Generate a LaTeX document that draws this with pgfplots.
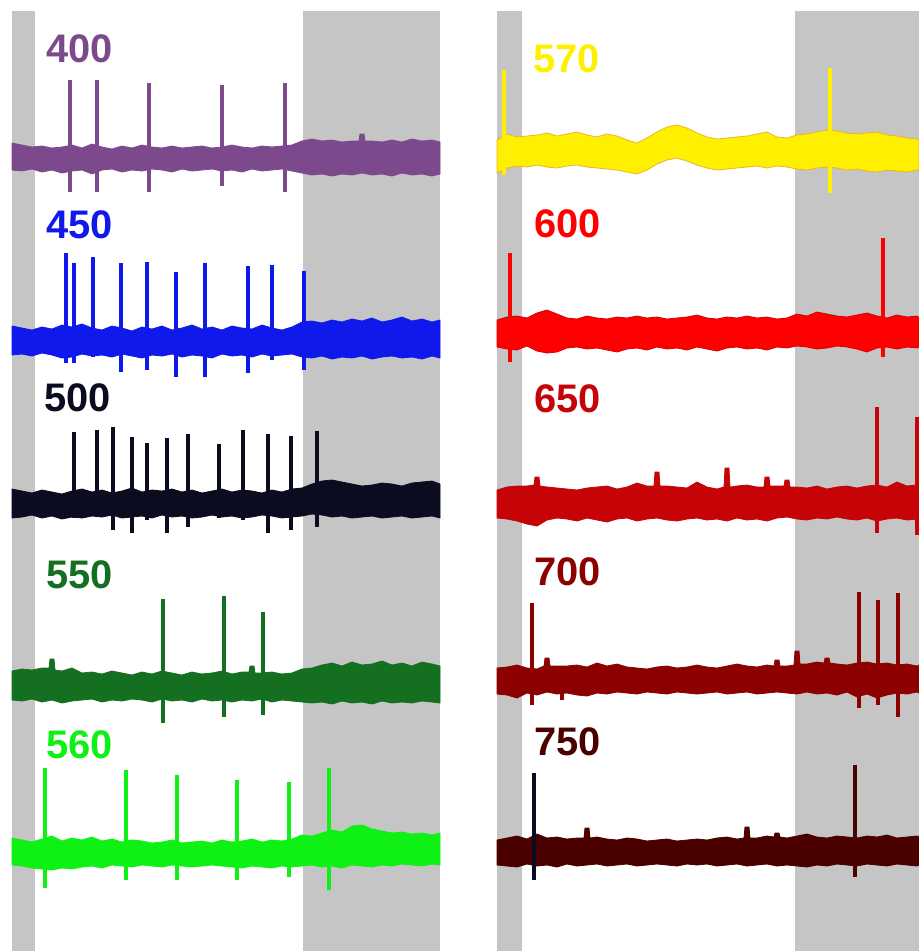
\documentclass[border=0pt]{standalone}
\usepackage{pgfplots}
\pgfplotsset{compat=1.18}
\usepackage{fontspec}
\setmainfont{Liberation Sans}

\definecolor{bgray}{RGB}{197,197,197}
\definecolor{cPur}{RGB}{124,74,140}
\definecolor{cBlu}{RGB}{15,25,235}
\definecolor{cBlk}{RGB}{12,12,32}
\definecolor{cDgr}{RGB}{20,112,32}
\definecolor{cLim}{RGB}{15,240,20}
\definecolor{cYel}{RGB}{255,240,0}
\definecolor{cYelE}{RGB}{232,180,40}
\definecolor{cRed}{RGB}{255,0,0}
\definecolor{cRedE}{RGB}{215,0,0}
\definecolor{cDrd}{RGB}{198,4,8}
\definecolor{cMar}{RGB}{140,0,0}
\definecolor{cBrn}{RGB}{75,0,0}

\newcommand{\labfont}{\fontsize{40}{40}\selectfont\bfseries}
\newcommand{\spk}[4]{\addplot[#1, line width=3.6bp] coordinates {(#2,#3) (#2,#4)};}

\pgfplotsset{panel/.style={hide axis, x=1bp, y=1bp, y dir=reverse,
  ymin=11, ymax=951, clip=false, anchor=north west},
  band/.style={line width=0.8bp}}

\begin{document}
\begin{tikzpicture}
\useasboundingbox (0bp,0bp) rectangle (919bp,-951bp);

% ---------------- left panel ----------------
\begin{axis}[panel, xmin=12, xmax=440, at={(12bp,-11bp)}]
\addplot[fill=bgray, draw=none] coordinates {(12,11) (35,11) (35,951) (12,951)} -- cycle;
\addplot[fill=bgray, draw=none] coordinates {(303,11) (440,11) (440,951) (303,951)} -- cycle;

% 400
\addplot[band, fill=cPur, draw=cPur] coordinates {
(12,143)(22,145)(32,147)(42,146)(52,148)(62,147)(72,145)(82,148)(92,144)(102,147)(112,149)(122,146)(132,148)(142,145)(152,147)(162,148)(172,146)(182,148)(192,147)(202,146)(212,148)(222,147)(232,145)(242,147)(252,148)(262,146)(272,147)(282,146)(292,145)(302,141)(312,139)(322,141)(332,140)(342,142)(352,141)(359,141)(360,134)(364,134)(365,141)(372,141)(382,142)(392,140)(402,142)(412,139)(422,141)(432,140)(440,142)
(440,174)(432,176)(422,174)(412,175)(402,173)(392,176)(382,174)(372,175)(362,173)(352,175)(342,174)(332,176)(322,174)(312,175)(302,173)(292,171)(282,169)(272,170)(262,171)(252,169)(242,172)(232,170)(222,171)(212,169)(202,170)(192,171)(182,169)(172,172)(162,170)(152,169)(142,171)(132,170)(122,172)(112,169)(102,170)(92,174)(82,170)(72,171)(62,173)(52,170)(42,172)(32,169)(22,171)(12,170)
} -- cycle;
\spk{cPur}{70}{80}{192}
\spk{cPur}{97}{80}{192}
\spk{cPur}{149}{83}{192}
\spk{cPur}{222}{85}{186}
\spk{cPur}{285}{83}{192}

% 450
\addplot[band, fill=cBlu, draw=cBlu] coordinates {
(12,326)(22,328)(32,330)(42,327)(52,329)(62,325)(72,327)(82,324)(92,328)(102,330)(112,326)(122,328)(132,331)(142,327)(152,329)(162,326)(172,330)(182,328)(192,325)(202,329)(212,327)(222,330)(232,326)(242,328)(252,329)(262,325)(272,328)(282,330)(292,327)(302,322)(312,321)(322,323)(332,320)(342,322)(352,319)(362,321)(372,318)(382,322)(392,320)(402,317)(412,321)(422,319)(432,322)(440,320)
(440,358)(432,356)(422,359)(412,357)(402,358)(392,356)(382,357)(372,359)(362,356)(352,358)(342,357)(332,359)(322,356)(312,358)(302,357)(292,354)(282,355)(272,356)(262,354)(252,357)(242,355)(232,356)(222,354)(212,358)(202,356)(192,355)(182,357)(172,354)(162,356)(152,355)(142,358)(132,356)(122,354)(112,357)(102,355)(92,356)(82,354)(72,357)(62,358)(52,355)(42,353)(32,356)(22,354)(12,355)
} -- cycle;
\spk{cBlu}{66}{253}{363}
\spk{cBlu}{74}{263}{363}
\spk{cBlu}{93}{257}{357}
\spk{cBlu}{121}{263}{372}
\spk{cBlu}{147}{262}{370}
\spk{cBlu}{176}{272}{377}
\spk{cBlu}{205}{263}{377}
\spk{cBlu}{248}{266}{373}
\spk{cBlu}{272}{265}{360}
\spk{cBlu}{304}{271}{370}

% 500
\addplot[band, fill=cBlk, draw=cBlk] coordinates {
(12,489)(22,491)(32,493)(42,490)(52,492)(62,494)(72,491)(82,489)(92,492)(102,490)(112,493)(122,491)(132,488)(142,492)(152,490)(162,491)(172,489)(182,492)(192,490)(202,493)(212,491)(222,489)(232,492)(242,490)(252,491)(262,493)(272,490)(282,492)(292,489)(302,488)(312,484)(322,481)(332,480)(342,482)(352,484)(362,486)(372,485)(382,483)(392,484)(402,486)(412,483)(422,482)(432,481)(440,484)
(440,518)(432,516)(422,517)(412,518)(402,516)(392,517)(382,518)(372,516)(362,517)(352,518)(342,516)(332,517)(322,515)(312,514)(302,516)(292,517)(282,518)(272,516)(262,515)(252,517)(242,518)(232,516)(222,517)(212,515)(202,517)(192,518)(182,516)(172,517)(162,515)(152,518)(142,516)(132,517)(122,518)(112,515)(102,517)(92,516)(82,518)(72,517)(62,519)(52,516)(42,518)(32,515)(22,517)(12,518)
} -- cycle;
\spk{cBlk}{74}{432}{518}
\spk{cBlk}{97}{430}{515}
\spk{cBlk}{113}{427}{530}
\spk{cBlk}{132}{437}{533}
\spk{cBlk}{147}{443}{520}
\spk{cBlk}{167}{438}{533}
\spk{cBlk}{188}{434}{527}
\spk{cBlk}{219}{444}{518}
\spk{cBlk}{243}{430}{520}
\spk{cBlk}{268}{434}{533}
\spk{cBlk}{291}{436}{530}
\spk{cBlk}{317}{431}{527}

% 550
\addplot[band, fill=cDgr, draw=cDgr] coordinates {
(12,671)(22,669)(32,670)(42,668)(49,668)(50,659)(54,659)(55,670)(62,671)(72,668)(82,673)(92,672)(102,674)(112,671)(122,673)(132,675)(142,672)(152,674)(162,671)(172,673)(182,675)(192,672)(202,674)(212,673)(222,671)(232,674)(242,672)(249,672)(250,666)(254,666)(255,673)(262,673)(272,672)(282,674)(292,673)(302,669)(312,668)(322,665)(332,663)(342,666)(352,662)(362,665)(372,664)(382,661)(392,665)(402,663)(412,666)(422,662)(432,664)(440,666)
(440,703)(432,702)(422,701)(412,703)(402,702)(392,703)(382,701)(372,704)(362,702)(352,703)(342,701)(332,704)(322,702)(312,703)(302,702)(292,701)(282,700)(272,702)(262,699)(252,701)(242,700)(232,702)(222,700)(212,701)(202,699)(192,702)(182,700)(172,701)(162,699)(152,702)(142,700)(132,699)(122,701)(112,700)(102,702)(92,699)(82,700)(72,701)(62,703)(52,700)(42,702)(32,699)(22,701)(12,700)
} -- cycle;
\spk{cDgr}{163}{599}{723}
\spk{cDgr}{224}{596}{717}
\spk{cDgr}{263}{612}{715}

% 560
\addplot[band, fill=cLim, draw=cLim] coordinates {
(12,838)(22,840)(32,842)(42,839)(52,836)(62,841)(72,838)(82,840)(92,837)(102,841)(112,839)(122,842)(132,840)(142,841)(152,843)(162,842)(172,840)(182,843)(192,842)(202,841)(212,843)(222,840)(232,842)(242,841)(252,839)(262,842)(272,840)(282,841)(292,839)(302,835)(312,836)(322,833)(332,830)(342,832)(352,826)(362,825)(372,829)(382,831)(392,833)(402,832)(412,834)(422,833)(432,835)(440,833)
(440,865)(432,864)(422,866)(412,865)(402,864)(392,866)(382,865)(372,867)(362,866)(352,865)(342,868)(332,866)(322,867)(312,865)(302,866)(292,867)(282,866)(272,868)(262,867)(252,866)(242,868)(232,867)(222,866)(212,865)(202,866)(192,867)(182,866)(172,865)(162,867)(152,866)(142,865)(132,867)(122,866)(112,865)(102,868)(92,866)(82,867)(72,869)(62,868)(52,870)(42,869)(32,868)(22,866)(12,865)
} -- cycle;
\spk{cLim}{45}{768}{888}
\spk{cLim}{126}{770}{880}
\spk{cLim}{177}{775}{880}
\spk{cLim}{237}{780}{880}
\spk{cLim}{289}{782}{877}
\spk{cLim}{329}{768}{890}

\node[anchor=base west, inner sep=0pt, text=cPur, font=\labfont] at (axis cs:46,62) {400};
\node[anchor=base west, inner sep=0pt, text=cBlu, font=\labfont] at (axis cs:46,238) {450};
\node[anchor=base west, inner sep=0pt, text=cBlk, font=\labfont] at (axis cs:44,411) {500};
\node[anchor=base west, inner sep=0pt, text=cDgr, font=\labfont] at (axis cs:46,588) {550};
\node[anchor=base west, inner sep=0pt, text=cLim, font=\labfont] at (axis cs:46,758) {560};
\end{axis}

% ---------------- right panel ----------------
\begin{axis}[panel, xmin=497, xmax=919, at={(497bp,-11bp)}]
\addplot[fill=bgray, draw=none] coordinates {(497,11) (522,11) (522,951) (497,951)} -- cycle;
\addplot[fill=bgray, draw=none] coordinates {(795,11) (919,11) (919,951) (795,951)} -- cycle;

% 570
\addplot[band, fill=cYel, draw=cYelE] coordinates {
(497,140)(507,134)(517,137)(527,136)(537,135)(547,133)(557,136)(567,134)(577,132)(587,135)(597,137)(607,134)(617,136)(627,140)(637,143)(647,138)(657,132)(667,127)(677,125)(687,128)(697,133)(707,137)(717,139)(727,138)(737,137)(747,136)(757,134)(767,132)(777,137)(787,138)(797,135)(807,134)(817,132)(827,130)(837,131)(847,133)(857,134)(867,133)(877,132)(887,135)(897,136)(907,138)(917,139)(919,140)
(919,171)(917,170)(907,172)(897,171)(887,170)(877,172)(867,171)(857,169)(847,170)(837,168)(827,167)(817,168)(807,170)(797,169)(787,167)(777,166)(767,168)(757,166)(747,167)(737,168)(727,169)(717,170)(707,168)(697,165)(687,161)(677,158)(667,160)(657,164)(647,170)(637,174)(627,172)(617,170)(607,169)(597,168)(587,167)(577,165)(567,166)(557,168)(547,167)(537,165)(527,167)(517,166)(507,168)(497,173)
} -- cycle;
\spk{cYel}{504}{70}{175}
\spk{cYel}{830}{68}{193}

% 600
\addplot[band, fill=cRed, draw=cRedE] coordinates {
(497,320)(507,317)(517,316)(527,318)(537,313)(547,310)(557,314)(567,318)(577,319)(587,316)(597,318)(607,319)(617,317)(627,318)(637,316)(647,318)(657,317)(667,319)(677,318)(687,317)(697,315)(707,318)(717,319)(727,317)(737,318)(747,316)(757,318)(767,317)(777,319)(787,318)(797,314)(807,316)(817,312)(827,314)(837,316)(847,317)(857,315)(867,313)(877,316)(887,318)(897,315)(907,317)(917,316)(919,318)
(919,347)(917,348)(907,347)(897,349)(887,347)(877,348)(867,352)(857,349)(847,347)(837,346)(827,348)(817,349)(807,347)(797,346)(787,348)(777,347)(767,350)(757,348)(747,349)(737,347)(727,348)(717,351)(707,349)(697,347)(687,350)(677,348)(667,349)(657,347)(647,350)(637,348)(627,349)(617,352)(607,350)(597,348)(587,349)(577,347)(567,348)(557,352)(547,353)(537,351)(527,346)(517,350)(507,349)(497,347)
} -- cycle;
\spk{cRed}{510}{253}{362}
\spk{cRed}{883}{238}{357}

% 650
\addplot[band, fill=cDrd, draw=cDrd] coordinates {
(497,490)(507,487)(517,486)(527,486)(534,485)(535,477)(539,477)(540,486)(547,487)(557,488)(567,489)(577,490)(587,488)(597,487)(607,486)(617,489)(627,487)(637,483)(647,486)(654,486)(655,472)(659,472)(660,486)(667,486)(677,487)(687,488)(697,482)(707,487)(717,489)(724,487)(725,468)(729,468)(730,487)(737,486)(747,485)(757,487)(764,487)(765,477)(769,477)(770,486)(777,486)(784,486)(785,480)(789,480)(790,487)(797,487)(807,488)(817,486)(827,489)(837,487)(847,486)(857,488)(867,486)(877,485)(887,487)(897,482)(907,486)(917,485)(919,487)
(919,518)(917,519)(907,520)(897,518)(887,519)(877,521)(867,518)(857,520)(847,519)(837,517)(827,519)(817,518)(807,520)(797,519)(787,517)(777,518)(767,521)(757,519)(747,520)(737,518)(727,521)(717,519)(707,520)(697,518)(687,519)(677,521)(667,520)(657,518)(647,519)(637,521)(627,518)(617,519)(607,522)(597,520)(587,518)(577,521)(567,519)(557,518)(547,520)(537,526)(527,524)(517,521)(507,519)(497,518)
} -- cycle;
\spk{cDrd}{877}{407}{533}
\spk{cDrd}{917}{417}{535}

% 700
\addplot[band, fill=cMar, draw=cMar] coordinates {
(497,668)(507,667)(517,665)(527,668)(537,669)(544,666)(545,658)(549,658)(550,666)(557,666)(567,666)(577,665)(587,667)(597,663)(607,666)(617,664)(627,667)(637,668)(647,669)(657,667)(667,666)(677,668)(687,667)(697,665)(707,667)(717,668)(727,666)(737,664)(747,666)(757,667)(767,665)(774,666)(775,660)(779,660)(780,666)(787,666)(794,665)(795,651)(799,651)(800,664)(807,664)(817,662)(824,663)(825,658)(829,658)(830,663)(837,664)(847,665)(857,663)(867,662)(877,664)(887,663)(897,665)(907,664)(917,666)(919,665)
(919,693)(917,692)(907,694)(897,693)(887,695)(877,698)(867,694)(857,697)(847,692)(837,695)(827,693)(817,694)(807,692)(797,694)(787,693)(777,692)(767,693)(757,694)(747,692)(737,693)(727,694)(717,692)(707,693)(697,694)(687,693)(677,692)(667,694)(657,693)(647,692)(637,694)(627,693)(617,692)(607,694)(597,693)(587,696)(577,695)(567,693)(557,694)(547,692)(537,695)(527,693)(517,698)(507,695)(497,694)
} -- cycle;
\spk{cMar}{532}{603}{705}
\spk{cMar}{562}{680}{700}
\spk{cMar}{859}{592}{708}
\spk{cMar}{878}{600}{705}
\spk{cMar}{898}{593}{717}

% 750
\addplot[band, fill=cBrn, draw=cBrn] coordinates {
(497,840)(507,838)(517,836)(527,839)(537,834)(547,838)(557,837)(567,839)(577,838)(584,838)(585,828)(589,828)(590,838)(597,837)(607,839)(617,840)(627,838)(637,839)(647,841)(657,840)(667,839)(677,841)(687,840)(697,839)(707,840)(717,838)(727,837)(737,839)(744,838)(745,827)(749,827)(750,838)(757,838)(767,836)(774,837)(775,833)(779,833)(780,837)(787,838)(797,836)(807,834)(817,837)(827,838)(837,836)(847,837)(857,838)(867,836)(877,837)(887,835)(897,838)(907,837)(917,836)(919,837)
(919,865)(917,866)(907,865)(897,864)(887,866)(877,865)(867,864)(857,866)(847,865)(837,864)(827,866)(817,865)(807,867)(797,866)(787,865)(777,866)(767,864)(757,865)(747,866)(737,864)(727,865)(717,866)(707,864)(697,865)(687,864)(677,866)(667,865)(657,864)(647,865)(637,866)(627,864)(617,865)(607,866)(597,864)(587,865)(577,866)(567,864)(557,867)(547,865)(537,866)(527,864)(517,867)(507,866)(497,865)
} -- cycle;
\spk{cBlk}{534}{773}{880}
\spk{cBrn}{855}{765}{877}

\node[anchor=base west, inner sep=0pt, text=cYel, font=\labfont] at (axis cs:533,72) {570};
\node[anchor=base west, inner sep=0pt, text=cRed, font=\labfont] at (axis cs:534,237) {600};
\node[anchor=base west, inner sep=0pt, text=cDrd, font=\labfont] at (axis cs:534,412) {650};
\node[anchor=base west, inner sep=0pt, text=cMar, font=\labfont] at (axis cs:534,585) {700};
\node[anchor=base west, inner sep=0pt, text=cBrn, font=\labfont] at (axis cs:534,755) {750};
\end{axis}
\end{tikzpicture}
\end{document}
